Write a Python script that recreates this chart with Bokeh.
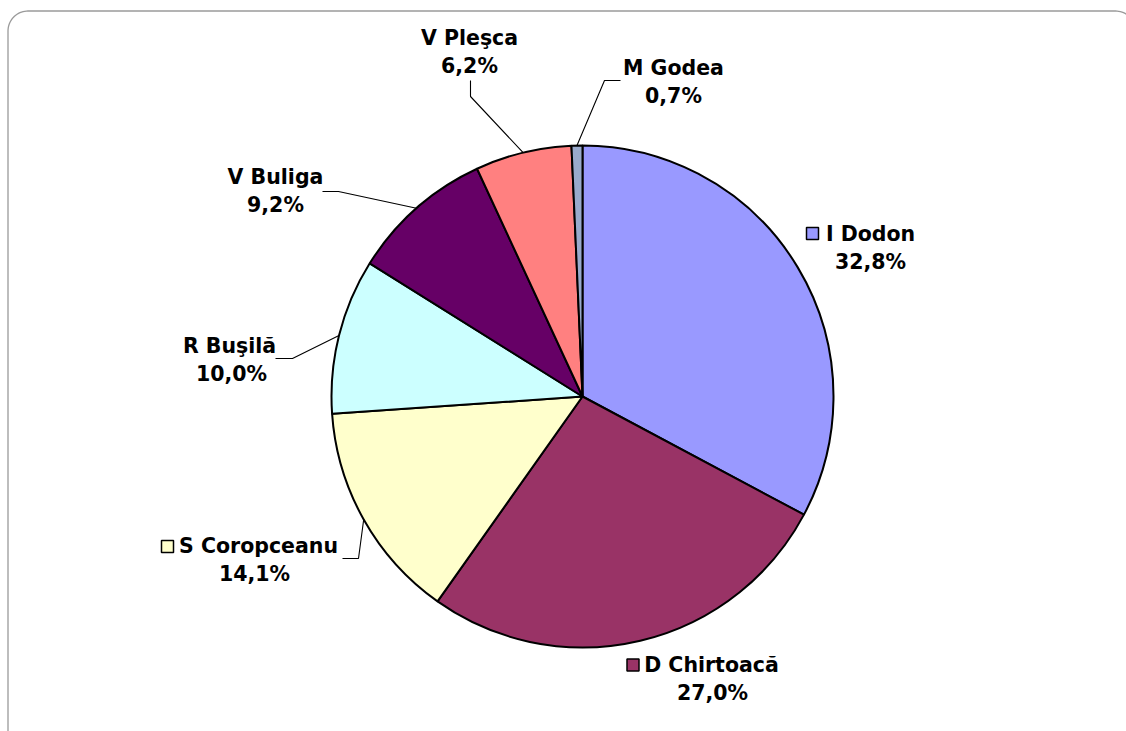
import numpy as np
from bokeh.plotting import figure
from bokeh.models import Range1d
from bokeh.core.properties import value
from bokeh.embed import file_html
from bokeh.resources import INLINE

# ---- data ----
names = ["I Dodon", "D Chirtoacă", "S Coropceanu", "R Buşilă", "V Buliga", "V Pleşca", "M Godea"]
shares = [32.8, 27.0, 14.1, 10.0, 9.2, 6.2, 0.7]
colors = ["#9999FF", "#993366", "#FFFFCC", "#CCFFFF", "#660066", "#FF8080", "#99AACC"]
pct_labels = [f"{s:.1f}%".replace(".", ",") for s in shares]

# ---- layout (page pixel coordinates) ----
W, H = 1126, 731
def Y(py):
    return H - py  # page y -> data y (y axis points up)

CX, CY, R = 582, 396, 251
label_cx = [870, 711, 258, 229, 275, 469, 673]
pct_cx = [870, 712, 254, 231, 275, 469, 673]
label_base = [233, 664, 545, 345, 176, 37, 67]
line_gap = 28.5
key_pos = {0: (812, 233), 1: (632.5, 664.5), 2: (167, 546)}
leader_pts = {
    2: [(342, 558), (358, 558)],
    3: [(275, 358), (292, 358)],
    4: [(322, 191), (338, 191)],
    5: [(470, 80), (470, 96)],
    6: [(620, 80), (604, 80)],
}

FONT = value("DejaVu Sans")
FS = "20.5px"

p = figure(width=W, height=H, x_range=Range1d(0, W), y_range=Range1d(0, H),
           output_backend="svg", toolbar_location=None, min_border=0)
p.axis.visible = False
p.grid.visible = False
p.outline_line_color = None
p.background_fill_color = "white"
p.border_fill_color = "white"

# rounded frame
rad = 20
left, top, right, bottom = 7.5, 10.5, 1135, 737
t = np.linspace(0, np.pi / 2, 20)
fx = [left] + list(left + rad - rad * np.cos(t)) + list(right - rad + rad * np.sin(t)) + [right]
fy = [bottom] + list(top + rad - rad * np.sin(t)) + list(top + rad - rad * np.cos(t)) + [bottom]
p.line(fx, [Y(v) for v in fy], line_color="#9a9a9a", line_width=1.3)

# pie
fr = np.array(shares) / sum(shares)
cum = np.concatenate([[0], np.cumsum(fr)])
a_start = np.pi / 2 - 2 * np.pi * cum[:-1]
a_end = np.pi / 2 - 2 * np.pi * cum[1:]
p.wedge(x=CX, y=Y(CY), radius=R, start_angle=a_end, end_angle=a_start,
        direction="anticlock", fill_color=colors, line_color="black", line_width=2)

# leader lines
mid = (a_start + a_end) / 2
for i, pts in leader_pts.items():
    ex = CX + R * np.cos(mid[i])
    ey = Y(CY) + R * np.sin(mid[i])
    xs = [pts[0][0], pts[1][0], ex]
    ys = [Y(pts[0][1]), Y(pts[1][1]), ey]
    p.line(xs, ys, line_color="black", line_width=1.1)

# legend keys
for i, (kx, ky) in key_pos.items():
    p.rect(x=kx, y=Y(ky), width=12, height=12, fill_color=colors[i],
           line_color="black", line_width=1.5)

# labels
p.text(x=label_cx, y=[Y(b) for b in label_base], text=names,
       text_align="center", text_baseline="alphabetic", text_font=FONT,
       text_font_style="bold", text_font_size=FS, text_color="black")
p.text(x=pct_cx, y=[Y(b + line_gap) for b in label_base], text=pct_labels,
       text_align="center", text_baseline="alphabetic", text_font=FONT,
       text_font_style="bold", text_font_size=FS, text_color="black")

open("out.html", "w").write(file_html(p, INLINE))
